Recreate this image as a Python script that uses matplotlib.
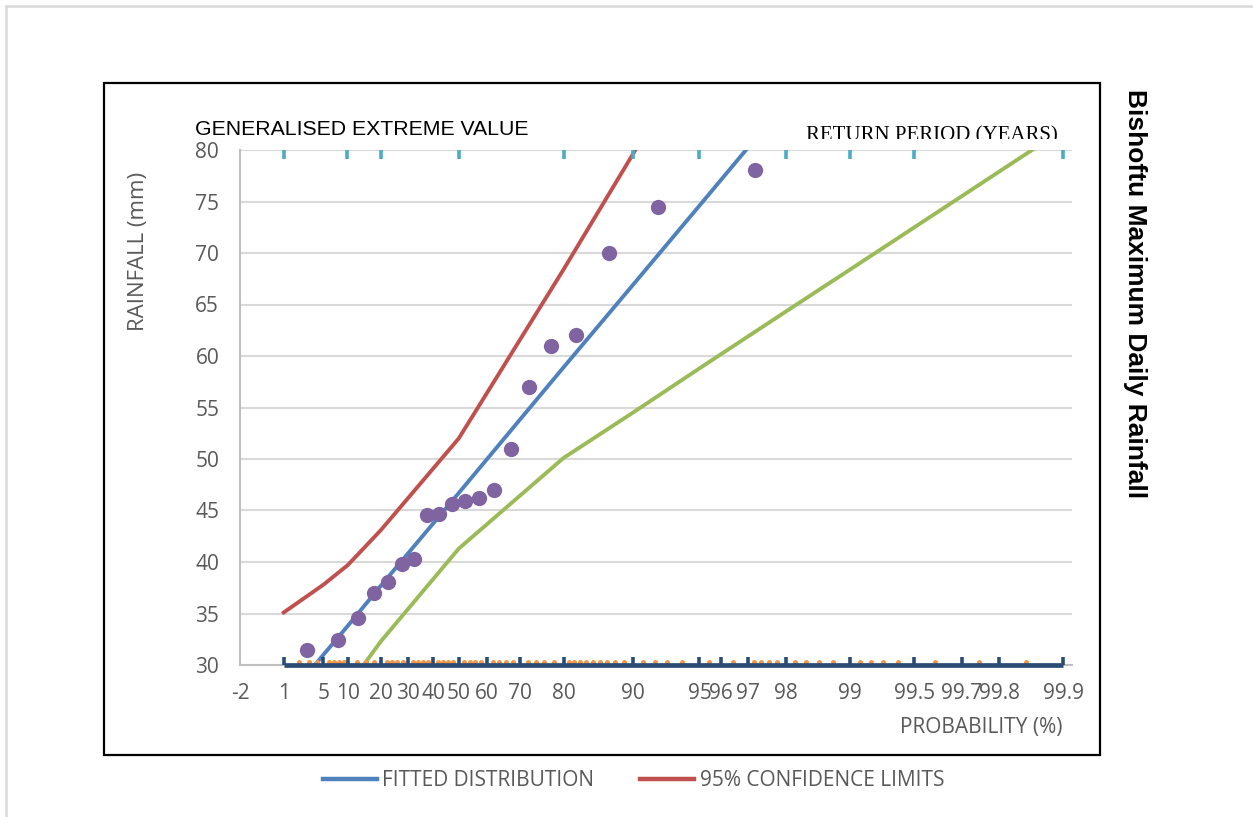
import numpy as np
import matplotlib
matplotlib.use("Agg")
import matplotlib.pyplot as plt
from matplotlib.lines import Line2D
from matplotlib.patches import Rectangle
from matplotlib.transforms import Bbox, TransformedBbox

W, H = 1253, 817

# observed annual maxima, ranked, with Gringorten non-exceedance probability (%)
obs_prob = [2.78, 7.75, 12.72, 17.69, 22.66, 27.63, 32.60, 37.57, 42.54, 47.51,
            52.49, 57.46, 62.43, 67.40, 72.37, 77.34, 82.31, 87.28, 92.25, 97.22]
obs_rain = [31.5, 32.4, 34.6, 37.0, 38.1, 39.8, 40.3, 44.6, 44.7, 45.6,
            45.9, 46.2, 47.0, 51.0, 57.0, 61.0, 62.0, 70.0, 74.5, 78.1]

# GEV fit and 95% confidence band
fit_prob = [1, 5, 10, 20, 50, 80, 90, 95, 98]
fit_rain = [26.4, 31.0, 33.8, 37.7, 46.7, 58.9, 66.9, 74.6, 84.6]
upper_prob = [1, 5, 10, 20, 50, 80, 90, 95]
upper_rain = [35.1, 37.8, 39.7, 43.1, 52.0, 68.4, 79.6, 91.0]
lower_prob = [10, 20, 50, 80, 90, 95, 98, 99, 99.5, 99.9]
lower_rain = [27.9, 32.3, 41.3, 50.1, 54.5, 58.8, 64.3, 68.4, 72.5, 82.0]

# probability-paper grid
tick_prob = [1, 5, 10, 20, 30, 40, 50, 60, 70, 80, 90, 95, 96, 97, 98, 99,
             99.5, 99.7, 99.8, 99.9]
minor_prob = [2, 3, 4, 6, 7, 8, 9, 12.5, 15, 17.5,
              22, 24, 26, 28, 32, 34, 36, 38, 42, 44, 46, 48,
              52, 54, 56, 58, 62, 64, 66, 68, 72, 74, 76, 78,
              81, 82, 83, 84, 85, 86, 87, 88, 89, 91, 92, 93, 94,
              95.5, 96.5, 97.2, 97.4, 97.6, 97.8, 98.2, 98.4, 98.6, 98.8,
              99.1, 99.2, 99.3, 99.4, 99.6, 99.75, 99.85]
return_period = [1.01, 1.11, 1.25, 2, 5, 10, 20, 50, 100, 200, 1000]


def gumbel(p_pct):
    p = np.asarray(p_pct, dtype=float) / 100.0
    return -np.log(-np.log(p))


BLUE = "#4F81BD"
RED = "#C0504D"
GREEN = "#9BBB59"
PURPLE = "#8064A2"
NAVY = "#2B4C74"
ORANGE = "#F79646"
CYAN = "#4BACC6"
GREY_TXT = "#595959"

fig = plt.figure(figsize=(W / 100, H / 100), dpi=100)
ax = fig.add_axes([240 / W, 1 - 665 / H, (1072 - 240) / W, (665 - 150) / H])
ax.set_xlim(-2, 7)
ax.set_ylim(30, 80)

ax.set_yticks(np.arange(30, 81, 5))
ax.yaxis.grid(True, color="#D9D9D9", lw=1.5)
ax.set_axisbelow(True)
for s in ("top", "right"):
    ax.spines[s].set_visible(False)
for s in ("left", "bottom"):
    ax.spines[s].set_color("#BFBFBF")
    ax.spines[s].set_linewidth(1.5)

xt = np.concatenate([[-2.0], gumbel(tick_prob)])
xl = ["-2"] + [f"{p:g}" for p in tick_prob]
ax.set_xticks(xt)
ax.set_xticklabels(xl)
ax.tick_params(length=0, labelsize=15, labelcolor=GREY_TXT)
ax.tick_params(axis="y", pad=15)
ax.tick_params(axis="x", pad=13)
for lab in ax.get_xticklabels() + ax.get_yticklabels():
    lab.set_fontfamily("Open Sans")

# bottom probability scale: baseline, major ticks, minor dots
ax.plot(gumbel([1, 99.9]), [30, 30], color=NAVY, lw=3.4, zorder=5, clip_on=False,
        solid_capstyle="butt")
ax.vlines(gumbel(tick_prob), 30, 30.8, color=NAVY, lw=2.6, zorder=5)
ax.plot(gumbel(minor_prob), np.full(len(minor_prob), 30.27), "o", color=ORANGE,
        ms=3.6, mec="none", zorder=4)

# return-period ticks along the top
rp_prob = [(1 - 1 / t) * 100 for t in return_period]
ax.vlines(gumbel(rp_prob), 79.1, 80, color=CYAN, lw=2.6, zorder=4)

ax.plot(gumbel(upper_prob), upper_rain, color=RED, lw=2.8, zorder=3)
ax.plot(gumbel(lower_prob), lower_rain, color=GREEN, lw=2.8, zorder=3)
ax.plot(gumbel(fit_prob), fit_rain, color=BLUE, lw=2.8, zorder=3)
ax.plot(gumbel(obs_prob), obs_rain, "o", color=PURPLE, ms=11, mec="none", zorder=6)

ax.set_ylabel("RAINFALL (mm)", fontsize=16, color=GREY_TXT, family="Open Sans")
ax.yaxis.set_label_coords(149 / W, 1 - 251 / H, transform=fig.transFigure)

fig.text(1062 / W, 1 - 727 / H, "PROBABILITY (%)", ha="right", va="center",
         fontsize=15, color=GREY_TXT, family="Open Sans")
fig.text(195 / W, 1 - 135 / H, "GENERALISED EXTREME VALUE", ha="left",
         va="baseline", fontsize=15.3, color="black", family="Liberation Sans")
rp = fig.text(932 / W, 1 - 140.5 / H, "RETURN PERIOD (YEARS)", ha="center",
              va="baseline", fontsize=15, color="black", family="Liberation Serif")
rp.set_clip_box(TransformedBbox(Bbox([[0, 1 - 139 / H], [1, 1]]), fig.transFigure))
rp.set_clip_on(True)

fig.text(1135 / W, 1 - 294 / H, "Bishoftu Maximum Daily Rainfall", rotation=-90,
         ha="center", va="center", fontsize=19, fontweight="bold",
         family="Liberation Sans")

# chart frame and outer border
fig.add_artist(Rectangle((104 / W, 1 - 755 / H), (1100 - 104) / W, (755 - 83) / H,
                         transform=fig.transFigure, fill=False, ec="black", lw=1.6))
fig.add_artist(Line2D([6 / W, 1], [1 - 6 / H, 1 - 6 / H], transform=fig.transFigure,
                      color="#D9D9D9", lw=1.8))
fig.add_artist(Line2D([6 / W, 6 / W], [0, 1 - 6 / H], transform=fig.transFigure,
                      color="#D9D9D9", lw=1.8))

handles = [Line2D([], [], color=BLUE, lw=3.2, label="FITTED DISTRIBUTION"),
           Line2D([], [], color=RED, lw=3.2, label="95% CONFIDENCE LIMITS")]
fig.legend(handles=handles, loc="center", ncol=2, frameon=False,
           bbox_to_anchor=(633.5 / W, 1 - 781 / H),
           prop={"family": "Open Sans", "size": 15},
           labelcolor=GREY_TXT, handlelength=2.6, handletextpad=0.25,
           columnspacing=2.2)

fig.savefig("out.png", dpi=100)
